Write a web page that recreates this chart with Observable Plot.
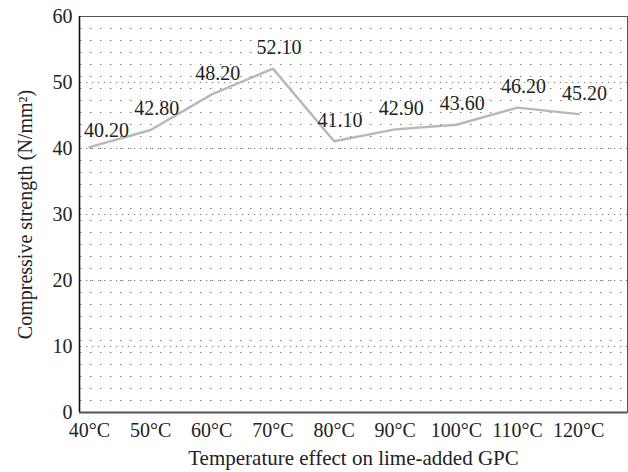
<!DOCTYPE html>
<html>
<head>
<meta charset="utf-8">
<script src="https://cdn.jsdelivr.net/npm/d3@7"></script>
<script src="https://cdn.jsdelivr.net/npm/@observablehq/plot@0.6"></script>
<style>
  html, body { margin: 0; padding: 0; background: #fff; }
  #chart svg { display: block; }
  #chart svg text { font-family: "Liberation Serif", "Times New Roman", serif; }
</style>
</head>
<body>
<div id="chart"></div>
<script>
const categories = ["40°C", "50°C", "60°C", "70°C", "80°C", "90°C", "100°C", "110°C", "120°C"];
const strength = [40.20, 42.80, 48.20, 52.10, 41.10, 42.90, 43.60, 46.20, 45.20];
const yTicks = [0, 10, 20, 30, 40, 50, 60];

const data = categories.map((c, i) => ({i, c, v: strength[i]}));
const minorRows = d3.range(1, 33).map(k => k * 60 / 33);
const majorRows = [10, 20, 30, 40, 50];
const font = "'Liberation Serif', 'Times New Roman', serif";
const fs = 20;

const chart = Plot.plot({
  width: 628,
  height: 472,
  marginLeft: 79,
  marginRight: 1,
  marginTop: 16,
  marginBottom: 60,
  style: {fontFamily: font, fontSize: fs + "px", color: "#222", background: "#fff"},
  x: {domain: [-0.164, 8.80]},
  y: {domain: [0, 60]},
  marks: [
    Plot.ruleY(minorRows, {stroke: "#777", strokeWidth: 1, strokeDasharray: "1.4 8.6", strokeDashoffset: -1}),
    Plot.ruleY(majorRows, {stroke: "#777", strokeWidth: 1, strokeDasharray: "1.2 4.8", strokeDashoffset: -1}),
    Plot.frame({stroke: "#555", strokeWidth: 1}),
    Plot.ruleX([-0.164], {stroke: "#111", strokeWidth: 1.6}),
    Plot.ruleY([0], {stroke: "#555", strokeWidth: 2.2}),
    Plot.axisY({ticks: yTicks, tickSize: 0, tickPadding: 7, fontSize: fs, fontFamily: font,
      label: "Compressive strength (N/mm²)", labelAnchor: "center", labelArrow: "none", labelOffset: 62}),
    Plot.axisX({ticks: d3.range(categories.length), tickFormat: i => categories[i], tickSize: 0, tickPadding: 10, fontSize: fs, fontFamily: font,
      label: null}),
    Plot.text(["Temperature effect on lime-added GPC"], {frameAnchor: "bottom", lineAnchor: "middle", dy: 46, fontSize: 21, fontFamily: font, fill: "#222"}),
    Plot.line(data, {x: "i", y: "v", stroke: "#b8b8b8", strokeWidth: 2.4}),
    Plot.text(data.slice(0, 1), {x: "i", y: "v", text: d => d.v.toFixed(2), dx: 17, dy: -17, fill: "#222", fontSize: fs, fontFamily: font}),
    Plot.text(data.slice(1), {x: "i", y: "v", text: d => d.v.toFixed(2), dx: 6, dy: -21, fill: "#222", fontSize: fs, fontFamily: font})
  ]
});
document.getElementById("chart").appendChild(chart);
</script>
</body>
</html>
